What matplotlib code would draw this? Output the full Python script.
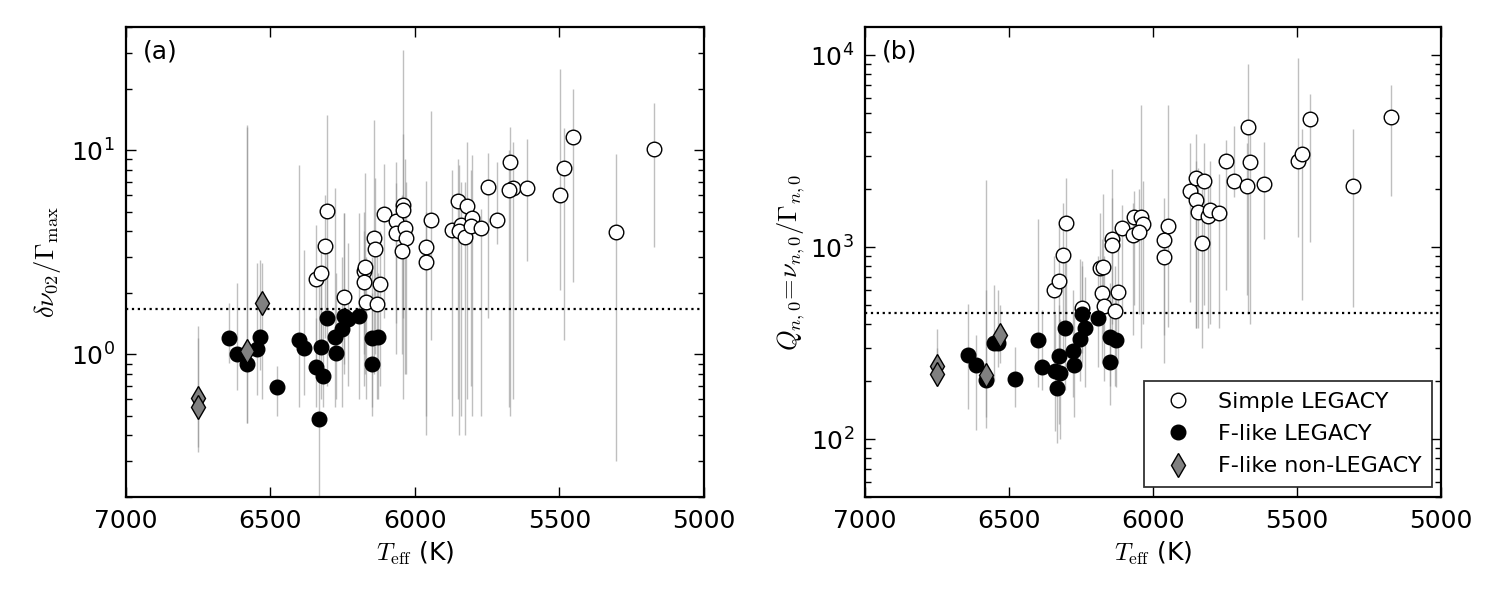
import numpy as np
import matplotlib
matplotlib.use("Agg")
import matplotlib.pyplot as plt

plt.rcParams['font.family'] = ['DejaVu Sans']
plt.rcParams['mathtext.fontset'] = 'cm'

# ---------------- Panel (a): delta nu_02 / Gamma_max ----------------
a_simple_teff = [6343, 6326, 6312, 6303, 6246, 6178, 6172, 6176, 6170, 6121, 6131,
                 6142, 6138, 6106, 6065, 6067, 6042, 6042, 6034, 6031, 6045, 5961,
                 5961, 5946, 5872, 5850, 5842, 5848, 5821, 5828, 5801, 5807, 5772,
                 5747, 5716, 5671, 5662, 5673, 5613, 5497, 5484, 5453, 5304, 5174]
a_simple_val = [2.34, 2.51, 3.38, 5.04, 1.90, 2.57, 2.67, 2.27, 1.80, 2.20, 1.77,
                3.71, 3.26, 4.87, 4.47, 3.94, 5.39, 5.10, 4.17, 3.69, 3.22, 3.34,
                2.84, 4.56, 4.08, 5.64, 4.31, 4.03, 5.35, 3.76, 4.64, 4.26, 4.15,
                6.60, 4.54, 8.74, 6.55, 6.40, 6.53, 6.03, 8.20, 11.57, 3.95, 10.1]
a_simple_lo = [0.9, 1.0, 1.2, 1.4, 0.9, 0.7, 0.8, 1.0, 0.6, 0.7, 0.6,
               0.8, 1.0, 1.5, 1.42, 1.0, 0.6, 1.5, 0.8, 0.8, 1.0, 0.4,
               0.5, 1.17, 0.5, 0.6, 0.5, 0.4, 0.6, 0.4, 0.5, 0.7, 0.5,
               1.5, 3.47, 0.5, 0.6, 0.55, 2.87, 2.07, 1.17, 2.25, 0.3, 3.36]
a_simple_hi = [4.3, 3.2, 6.0, 14.8, 4.9, 5.0, 7.7, 4.0, 3.0, 4.0, 3.5,
               14.0, 7.3, 8.6, 8.7, 6.9, 31.0, 12.0, 9.0, 7.0, 6.0, 7.05,
               5.0, 15.6, 8.0, 9.0, 7.0, 8.5, 11.0, 7.0, 9.5, 8.0, 5.15,
               9.7, 8.7, 13.0, 11.0, 10.0, 11.3, 25.0, 12.8, 19.9, 9.6, 17.0]

a_flike_teff = [6643, 6615, 6582, 6548, 6538, 6479, 6400, 6384, 6343, 6331, 6326,
                6320, 6304, 6276, 6275, 6252, 6246, 6233, 6192, 6149, 6129, 6148]
a_flike_val = [1.20, 1.00, 0.90, 1.06, 1.21, 0.69, 1.17, 1.07, 0.87, 0.48, 1.09,
               0.78, 1.51, 1.21, 1.01, 1.33, 1.53, 1.48, 1.53, 1.20, 1.21, 0.90]
a_flike_lo = [0.91, 0.67, 0.46, 0.63, 0.84, 0.50, 0.55, 0.63, 0.55, 0.10, 0.60,
              0.55, 0.70, 0.55, 0.60, 0.55, 0.80, 0.70, 0.60, 0.55, 0.60, 0.50]
a_flike_hi = [1.79, 2.24, 13.3, 2.79, 2.90, 0.88, 8.5, 3.25, 1.5, 2.7, 2.5,
              1.4, 3.5, 6.5, 2.5, 3.0, 4.9, 3.5, 4.9, 3.0, 2.5, 2.0]

a_nonleg_teff = [6752, 6752, 6582, 6530]
a_nonleg_val = [0.608, 0.553, 1.04, 1.79]
a_nonleg_lo = [0.35, 0.33, 0.46, 0.60]
a_nonleg_hi = [1.38, 1.20, 13.0, 2.80]

a_threshold = 1.66

# ---------------- Panel (b): Q = nu/Gamma ----------------
b_simple_teff = [6344, 6326, 6313, 6302, 6247, 6184, 6174, 6177, 6170, 6122, 6132,
                 6142, 6142, 6108, 6066, 6042, 6035, 6069, 6049, 5948, 5962, 5962,
                 5872, 5851, 5823, 5851, 5844, 5809, 5802, 5771, 5830, 5747, 5719,
                 5674, 5663, 5670, 5615, 5497, 5483, 5455, 5306, 5174]
b_simple_val = [596, 663, 916, 1343, 480, 783, 793, 574, 491, 581, 463,
                1109, 1021, 1264, 1443, 1443, 1327, 1151, 1205, 1297, 1084, 893,
                1968, 2301, 2219, 1770, 1532, 1462, 1571, 1515, 1057, 2818, 2219,
                2090, 2785, 4236, 2141, 2818, 3068, 4667, 2090, 4775]
b_simple_lo = [250, 230, 280, 400, 280, 400, 350, 250, 200, 250, 190,
               400, 350, 450, 500, 300, 400, 350, 450, 384, 350, 250,
               517, 380, 500, 380, 380, 378, 400, 378, 300, 600, 1820,
               561, 400, 450, 1100, 1130, 528, 1060, 488, 1850]
b_simple_hi = [900, 1300, 1700, 2300, 850, 1500, 1900, 1100, 900, 1100, 800,
               2560, 1800, 1650, 1970, 5540, 2200, 1700, 2000, 5500, 1800, 1400,
               3500, 3900, 3500, 2800, 2600, 2300, 2800, 2400, 2000, 3600, 4280,
               3500, 4300, 9000, 3520, 9730, 4140, 6280, 4140, 7010]

b_flike_teff = [6643, 6616, 6581, 6552, 6538, 6480, 6400, 6384, 6340, 6322, 6332,
                6326, 6305, 6277, 6275, 6253, 6235, 6247, 6192, 6148, 6130, 6149]
b_flike_val = [273, 243, 204, 315, 315, 206, 327, 238, 227, 220, 184,
               270, 381, 288, 244, 332, 381, 447, 427, 340, 327, 251]
b_flike_lo = [144, 111, 114, 200, 238, 147, 187, 180, 110, 100, 95,
              120, 180, 165, 130, 200, 187, 250, 238, 190, 187, 150]
b_flike_hi = [507, 347, 600, 633, 596, 302, 1410, 468, 450, 420, 300,
              500, 850, 600, 450, 870, 700, 800, 900, 650, 600, 450]

b_nonleg_teff = [6751, 6751, 6581, 6531]
b_nonleg_val = [240, 218, 215, 350]
b_nonleg_lo = [200, 190, 130, 250]
b_nonleg_hi = [376, 300, 2230, 498]

b_threshold = 453

legend_labels = ['Simple LEGACY', 'F-like LEGACY', 'F-like non-LEGACY']
xticks = [7000, 6500, 6000, 5500, 5000]


def draw_panel(ax, groups, threshold, ylim):
    # error bars first (behind markers)
    for teff, val, lo, hi, style in groups:
        val = np.asarray(val, float)
        yerr = [val - np.asarray(lo, float), np.asarray(hi, float) - val]
        ax.errorbar(teff, val, yerr=yerr, fmt='none', ecolor='0.55',
                    elinewidth=1.0, alpha=0.55, capsize=0, zorder=1)
    handles = []
    for teff, val, lo, hi, style in groups:
        h, = ax.plot(teff, val, linestyle='none', zorder=3, **style)
        handles.append(h)
    ax.axhline(threshold, color='k', linestyle=':', linewidth=1.6, zorder=2)
    ax.set_yscale('log')
    ax.set_xlim(7000, 5000)
    ax.set_ylim(*ylim)
    ax.set_xticks(xticks)
    ax.set_xticklabels([str(t) for t in xticks])
    ax.tick_params(which='both', direction='in', top=True, right=True,
                   labelsize=18)
    ax.tick_params(which='major', length=7, width=1)
    ax.tick_params(which='minor', length=4, width=1)
    ax.tick_params(axis='x', which='major', pad=9)
    ax.tick_params(axis='y', which='major', pad=8)
    for s in ax.spines.values():
        s.set_linewidth(1.6)
    ax.set_xlabel(r'$T_{\rm eff}$ (K)', fontsize=18, labelpad=5)
    return handles


open_style = dict(marker='o', markersize=10.5, markerfacecolor='white',
                  markeredgecolor='black', markeredgewidth=1.0)
black_style = dict(marker='o', markersize=10.5, markerfacecolor='black',
                   markeredgecolor='black', markeredgewidth=1.0)
diam_style = dict(marker='d', markersize=12, markerfacecolor='0.5',
                  markeredgecolor='black', markeredgewidth=1.0)

fig = plt.figure(figsize=(15, 6), dpi=100)
ax1 = fig.add_axes([0.084, 0.172, 0.3853, 0.7825])
ax2 = fig.add_axes([0.5767, 0.172, 0.384, 0.7825])

draw_panel(ax1, [
    (a_simple_teff, a_simple_val, a_simple_lo, a_simple_hi, open_style),
    (a_flike_teff, a_flike_val, a_flike_lo, a_flike_hi, black_style),
    (a_nonleg_teff, a_nonleg_val, a_nonleg_lo, a_nonleg_hi, diam_style),
], a_threshold, (0.2, 40))
ax1.set_ylabel(r'$\delta\nu_{02}/\Gamma_{\max}$', fontsize=19, labelpad=6)
ax1.text(0.03, 0.975, '(a)', transform=ax1.transAxes, fontsize=18,
         va='top', ha='left')

h = draw_panel(ax2, [
    (b_simple_teff, b_simple_val, b_simple_lo, b_simple_hi, open_style),
    (b_flike_teff, b_flike_val, b_flike_lo, b_flike_hi, black_style),
    (b_nonleg_teff, b_nonleg_val, b_nonleg_lo, b_nonleg_hi, diam_style),
], b_threshold, (50, 1.4e4))
ax2.set_ylabel(r'$Q_{n,0}\!=\!\nu_{n,0}/\Gamma_{n,0}$', fontsize=19, labelpad=2)
ax2.text(0.03, 0.975, '(b)', transform=ax2.transAxes, fontsize=18,
         va='top', ha='left')

leg = ax2.legend(h, legend_labels, loc='lower right', numpoints=1,
                 fontsize=16, frameon=True, fancybox=False,
                 bbox_to_anchor=(0.985, 0.02), borderaxespad=0,
                 handletextpad=0.8, borderpad=0.5, labelspacing=0.55,
                 handlelength=2.0)
leg.get_frame().set_edgecolor('black')
leg.get_frame().set_linewidth(1.3)

fig.savefig('out.png', dpi=100)
